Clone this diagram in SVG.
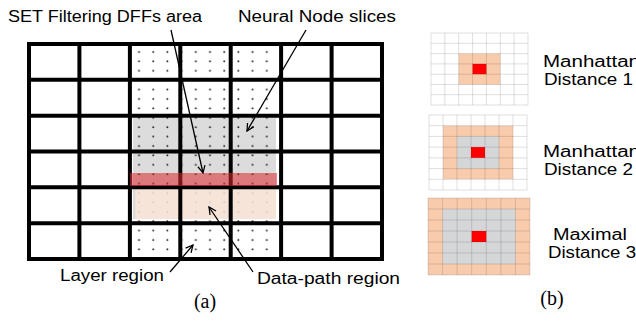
<svg xmlns="http://www.w3.org/2000/svg" width="636" height="322" viewBox="0 0 636 322">
<style>
.lbl{font-family:"Liberation Sans","Open Sans",sans-serif;font-size:16px;fill:#000}
.cap{font-family:"Liberation Serif",serif;font-size:20px;fill:#000}
.grid{stroke:#000;stroke-width:4;stroke-linecap:square;fill:none}
.fine{stroke:#000;stroke-opacity:0.13;stroke-width:1;fill:none}
.arr{stroke:#000;stroke-width:1.3;fill:none;marker-end:url(#ah)}
.peach{fill:#f8cbad}
.gray{fill:#d5d6d8}
.red{fill:#ff0000}
</style>
<defs>
<pattern id="dots" patternUnits="userSpaceOnUse" x="133" y="48" width="14.2" height="9.4">
<circle cx="6" cy="4" r="1" fill="#222"/>
</pattern>
<marker id="ah" viewBox="0 0 10 10" refX="9" refY="5" markerWidth="9" markerHeight="9" markerUnits="userSpaceOnUse" orient="auto">
<path d="M1,1 L9,5 L1,9" fill="none" stroke="#000" stroke-width="1.4"/>
</marker>
</defs>
<rect width="636" height="322" fill="#fff"/>

<g id="panel-a">
<g id="regions">
<rect x="133" y="118" width="143" height="101" fill="#dcdcdc"/>
<rect x="130" y="44" width="151" height="215" fill="url(#dots)"/>
<rect x="135.5" y="186" width="140.5" height="33" fill="#f9e5d6" fill-opacity="0.85"/>
</g>
<g id="grid-a">
<path class="grid" d="M29,44H382M29,79.8H382M29,115.7H382M29,151.5H382M29,187.3H382M29,223.2H382M29,259H382M29,44V259M79.4,44V259M129.9,44V259M180.3,44V259M230.7,44V259M281.1,44V259M331.6,44V259M382,44V259"/>
</g>
<rect id="set-band" x="130" y="173" width="147" height="13" fill="rgb(220,40,45)" fill-opacity="0.55"/>
</g>

<g id="connectors">
<line class="arr" x1="171" y1="30" x2="203" y2="173"/>
<line class="arr" x1="306" y1="30" x2="247" y2="131"/>
<line class="arr" x1="170" y1="272" x2="193" y2="245"/>
<line class="arr" x1="253" y1="272" x2="209" y2="207"/>
</g>

<g id="labels-a">
<text class="lbl" x="8" y="22" textLength="194" lengthAdjust="spacingAndGlyphs">SET Filtering DFFs area</text>
<text class="lbl" x="238" y="22" textLength="158" lengthAdjust="spacingAndGlyphs">Neural Node slices</text>
<text class="lbl" x="60" y="281" textLength="104" lengthAdjust="spacingAndGlyphs">Layer region</text>
<text class="lbl" x="257" y="284" textLength="143" lengthAdjust="spacingAndGlyphs">Data-path region</text>
<text class="cap" x="205" y="308" text-anchor="middle">(a)</text>
</g>

<g id="md1">
<rect class="peach" x="458.7" y="53.6" width="41.6" height="30.9"/>
<rect class="red" x="472.6" y="63.9" width="13.8" height="10.3"/>
<path class="fine" d="M431,33H528M431,43.3H528M431,53.6H528M431,63.9H528M431,74.2H528M431,84.5H528M431,94.7H528M431,105H528M431,33V105M444.9,33V105M458.7,33V105M472.6,33V105M486.4,33V105M500.3,33V105M514.1,33V105M528,33V105"/>
<text class="lbl" x="543" y="67" textLength="97" lengthAdjust="spacingAndGlyphs">Manhattan</text>
<text class="lbl" x="544" y="85" textLength="89" lengthAdjust="spacingAndGlyphs">Distance 1</text>
</g>

<g id="md2">
<rect class="peach" x="443" y="125.7" width="70" height="53.5"/>
<rect class="gray" x="457" y="136.4" width="42" height="32.1"/>
<rect class="red" x="471" y="147.1" width="14" height="10.7"/>
<path class="fine" d="M429,115H527M429,125.7H527M429,136.4H527M429,147.1H527M429,157.9H527M429,168.6H527M429,179.3H527M429,190H527M429,115V190M443,115V190M457,115V190M471,115V190M485,115V190M499,115V190M513,115V190M527,115V190"/>
<text class="lbl" x="543" y="157" textLength="97" lengthAdjust="spacingAndGlyphs">Manhattan</text>
<text class="lbl" x="544" y="175" textLength="89" lengthAdjust="spacingAndGlyphs">Distance 2</text>
</g>

<g id="md3">
<rect class="peach" x="428" y="198" width="102" height="77"/>
<rect class="gray" x="442.6" y="209" width="72.8" height="55"/>
<rect class="red" x="471.7" y="231" width="14.6" height="11"/>
<path class="fine" d="M428,198H530M428,209H530M428,220H530M428,231H530M428,242H530M428,253H530M428,264H530M428,275H530M428,198V275M442.6,198V275M457.1,198V275M471.7,198V275M486.3,198V275M500.9,198V275M515.4,198V275M530,198V275"/>
<text class="lbl" x="553" y="240" textLength="74" lengthAdjust="spacingAndGlyphs">Maximal</text>
<text class="lbl" x="548" y="258" textLength="88" lengthAdjust="spacingAndGlyphs">Distance 3</text>
<text class="cap" x="552" y="305" text-anchor="middle">(b)</text>
</g>
</svg>
